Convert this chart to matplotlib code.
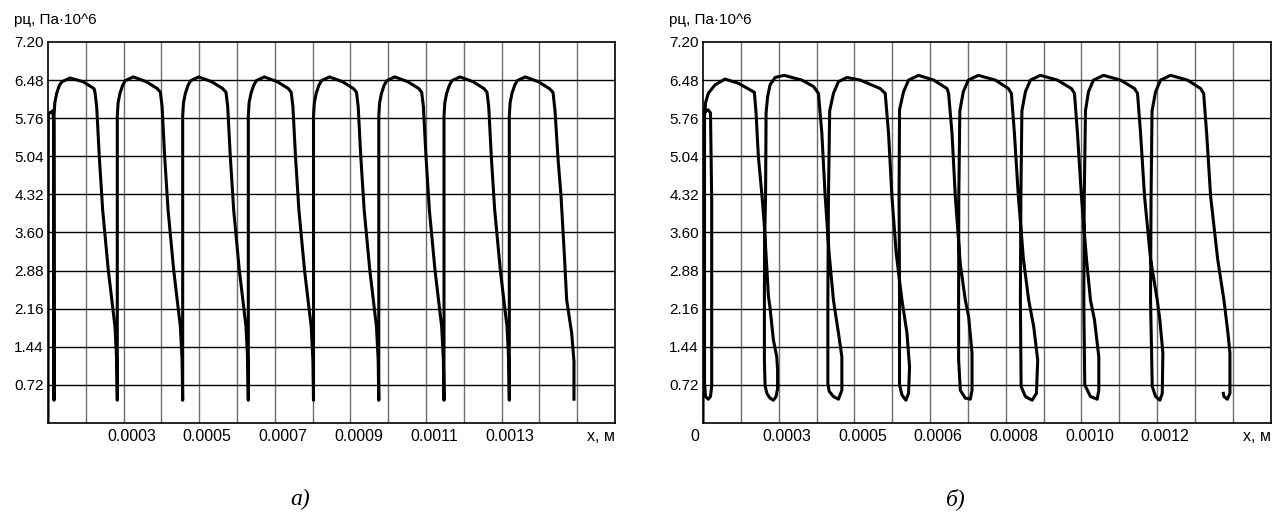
import numpy as np
import matplotlib.pyplot as plt
from matplotlib import transforms

plt.rcParams['font.family'] = ['Liberation Sans', 'DejaVu Sans']

# x in units of 1e-4 m, y in Pa*10^6
y_ticks = [0.72, 1.44, 2.16, 2.88, 3.60, 4.32, 5.04, 5.76, 6.48, 7.20]
y_ticklabels = ['0.72', '1.44', '2.16', '2.88', '3.60', '4.32', '5.04', '5.76', '6.48', '7.20']

# panel a)
xa = [1.000, 1.008, 1.124, 1.150, 1.159,
      1.159, 1.180, 1.230, 1.300, 1.371, 1.582, 1.926, 2.217, 2.243, 2.288, 2.357, 2.447, 2.595, 2.772, 2.817, 2.833,
      2.833, 2.854, 2.904, 2.974, 3.045, 3.256, 3.600, 3.891, 3.973, 4.018, 4.087, 4.177, 4.325, 4.502, 4.547, 4.563,
      4.563, 4.584, 4.634, 4.704, 4.775, 4.986, 5.330, 5.621, 5.709, 5.754, 5.823, 5.913, 6.061, 6.238, 6.283, 6.299,
      6.299, 6.320, 6.370, 6.440, 6.511, 6.722, 7.066, 7.357, 7.434, 7.479, 7.548, 7.638, 7.786, 7.963, 8.008, 8.024,
      8.024, 8.045, 8.095, 8.165, 8.236, 8.447, 8.791, 9.082, 9.161, 9.206, 9.275, 9.365, 9.513, 9.690, 9.735, 9.751,
      9.751, 9.772, 9.822, 9.892, 9.963, 10.174, 10.518, 10.809, 10.886, 10.931, 11.000, 11.090, 11.238, 11.415, 11.460, 11.476,
      11.476, 11.497, 11.547, 11.617, 11.688, 11.899, 12.243, 12.534, 12.614, 12.659, 12.728, 12.818, 12.966, 13.143, 13.188, 13.204,
      13.204, 13.225, 13.275, 13.345, 13.416, 13.627, 13.971, 14.262, 14.360, 14.413, 14.492, 14.571, 14.651, 14.722, 14.854, 14.915, 14.915]
pa = [0.00, 5.84, 5.90, 5.70, 0.43,
      5.80, 6.05, 6.23, 6.38, 6.45, 6.52, 6.45, 6.32, 6.25, 5.98, 5.03, 4.02, 2.89, 1.82, 1.19, 0.43,
      5.80, 6.05, 6.23, 6.38, 6.47, 6.54, 6.45, 6.32, 6.25, 5.98, 5.03, 4.02, 2.89, 1.82, 1.19, 0.43,
      5.80, 6.05, 6.23, 6.38, 6.47, 6.54, 6.45, 6.32, 6.25, 5.98, 5.03, 4.02, 2.89, 1.82, 1.19, 0.43,
      5.80, 6.05, 6.23, 6.38, 6.47, 6.54, 6.45, 6.32, 6.25, 5.98, 5.03, 4.02, 2.89, 1.82, 1.19, 0.43,
      5.80, 6.05, 6.23, 6.38, 6.47, 6.54, 6.45, 6.32, 6.25, 5.98, 5.03, 4.02, 2.89, 1.82, 1.19, 0.43,
      5.80, 6.05, 6.23, 6.38, 6.47, 6.54, 6.45, 6.32, 6.25, 5.98, 5.03, 4.02, 2.89, 1.82, 1.19, 0.43,
      5.80, 6.05, 6.23, 6.38, 6.47, 6.54, 6.45, 6.32, 6.25, 5.98, 5.03, 4.02, 2.89, 1.82, 1.19, 0.43,
      5.80, 6.05, 6.23, 6.38, 6.47, 6.54, 6.45, 6.32, 6.25, 5.90, 5.00, 4.30, 3.30, 2.32, 1.70, 1.16, 0.45]
xa_ticklabels = ['0.0003', '0.0005', '0.0007', '0.0009', '0.0011', '0.0013']
xa_ticklabel_pos = [3, 5, 7, 9, 11, 13]

# panel б)
xb = [0.000, 0.008, 0.132, 0.198, 0.230, 0.230, 0.198, 0.140, 0.066, 0.040, 0.040, 0.066, 0.140, 0.317, 0.582, 0.934,
      1.357, 1.402, 1.463, 1.553, 1.614, 1.685, 1.728, 1.772, 1.860, 1.950, 1.971, 1.971, 1.931, 1.860, 1.772, 1.693, 1.640,
      1.622, 1.622, 1.627, 1.653, 1.667, 1.706, 1.772, 1.905, 2.143, 2.611, 2.918,
      3.050, 3.140, 3.228, 3.333, 3.447, 3.579, 3.669, 3.669, 3.579, 3.447, 3.333, 3.299,
      3.299, 3.315, 3.347, 3.447, 3.579, 3.802, 4.153, 4.683,
      4.815, 4.902, 4.992, 5.106, 5.257, 5.389, 5.458, 5.431, 5.362, 5.257, 5.193,
      5.193, 5.180, 5.193, 5.299, 5.431, 5.696, 6.093, 6.447,
      6.489, 6.579, 6.667, 6.799, 6.931, 7.019, 7.108, 7.108, 7.063, 6.931, 6.799, 6.754,
      6.754, 6.759, 6.786, 6.878, 7.011, 7.275, 7.725, 8.069,
      8.148, 8.228, 8.333, 8.466, 8.606, 8.738, 8.844, 8.810, 8.696, 8.519, 8.405,
      8.386, 8.399, 8.426, 8.519, 8.651, 8.915, 9.365, 9.735,
      9.815, 9.894, 10.000, 10.132, 10.238, 10.344, 10.458, 10.458, 10.415, 10.238, 10.087,
      10.061, 10.074, 10.106, 10.185, 10.317, 10.582, 11.032, 11.402,
      11.481, 11.561, 11.667, 11.825, 12.003, 12.071, 12.151, 12.135, 12.071, 11.958, 11.870,
      11.825, 11.839, 11.865, 11.958, 12.090, 12.354, 12.804, 13.148,
      13.228, 13.307, 13.413, 13.598, 13.765, 13.870, 13.923, 13.923, 13.854, 13.765, 13.749]
pb = [0.00, 5.86, 5.92, 5.86, 4.20, 0.70, 0.50, 0.45, 0.50, 0.75, 5.80, 6.05, 6.23, 6.39, 6.50, 6.42,
      6.25, 5.86, 5.03, 4.34, 3.80, 2.95, 2.40, 2.17, 1.57, 1.25, 1.00, 0.65, 0.50, 0.43, 0.47, 0.55, 0.70,
      1.20, 2.32, 3.40, 4.28, 5.86, 6.16, 6.39, 6.53, 6.57, 6.48, 6.36,
      6.23, 5.48, 4.28, 3.20, 2.32, 1.70, 1.25, 0.62, 0.45, 0.50, 0.60, 0.75,
      2.32, 4.28, 5.90, 6.23, 6.45, 6.53, 6.48, 6.32,
      6.23, 5.48, 4.28, 3.20, 2.32, 1.70, 1.06, 0.56, 0.43, 0.53, 0.72,
      2.32, 4.28, 5.92, 6.26, 6.48, 6.57, 6.48, 6.32,
      6.23, 5.48, 4.28, 3.00, 2.32, 2.01, 1.32, 0.62, 0.45, 0.47, 0.62, 1.20,
      2.32, 4.28, 5.90, 6.26, 6.48, 6.57, 6.48, 6.32,
      6.23, 5.48, 4.28, 3.10, 2.32, 1.82, 1.19, 0.56, 0.43, 0.50, 0.69,
      2.32, 4.28, 5.90, 6.26, 6.48, 6.57, 6.48, 6.32,
      6.23, 5.48, 4.28, 3.10, 2.32, 1.95, 1.25, 0.62, 0.45, 0.50, 0.72,
      2.32, 4.28, 5.90, 6.26, 6.48, 6.57, 6.48, 6.32,
      6.23, 5.48, 4.28, 3.10, 2.32, 1.95, 1.32, 0.56, 0.43, 0.50, 0.69,
      2.32, 4.28, 5.90, 6.26, 6.48, 6.57, 6.48, 6.32,
      6.23, 5.48, 4.28, 3.10, 2.32, 1.70, 1.32, 0.56, 0.45, 0.50, 0.56]
xb_ticklabels = ['0', '0.0003', '0.0005', '0.0006', '0.0008', '0.0010', '0.0012']
xb_ticklabel_pos = [0, 2, 4, 6, 8, 10, 12]

fig = plt.figure(figsize=(12.78, 5.13), dpi=100)
ax_a = fig.add_axes([48 / 1278, 90 / 513, 567 / 1278, 381 / 513])
ax_b = fig.add_axes([703 / 1278, 90 / 513, 567.7 / 1278, 381 / 513])

panels = [(ax_a, xa, pa, 1, xa_ticklabels, xa_ticklabel_pos, 'а)'),
          (ax_b, xb, pb, 0, xb_ticklabels, xb_ticklabel_pos, 'б)')]

for ax, x, p, x0, labels, lpos, cap in panels:
    ax.set_xlim(x0, x0 + 15)
    ax.set_ylim(0, 7.2)
    # grid: one vertical line per 1e-4 m division, horizontal at the y ticks
    for g in range(1, 15):
        ax.axvline(x0 + g, color='#6e6e6e', lw=1.0, zorder=1)
    for yv in y_ticks[:-1]:
        ax.axhline(yv, color='black', lw=1.0, zorder=1)
    ax.plot(x, p, color='black', lw=2.2, solid_joinstyle='round', zorder=3)
    ax.set_xticks([])
    ax.set_yticks(y_ticks)
    ax.set_yticklabels(y_ticklabels, fontsize=11)
    ax.tick_params(axis='y', length=0, pad=3)
    for s in ax.spines.values():
        s.set_linewidth(1.2)

    # x labels sit a little right of their grid line (the "0" a little left)
    for lab, pos in zip(labels, lpos):
        dx = 8 if lab != '0' else -8
        tr = transforms.offset_copy(ax.get_xaxis_transform(), fig=fig, x=dx * 0.72, y=0, units='points')
        ax.text(pos, -0.036, lab, transform=tr, ha='center', va='center', fontsize=11.5)
    ax.text(1.0, -0.036, 'х, м', transform=ax.transAxes, ha='right', va='center', fontsize=11.5)
    ax.text(-0.06, 1.057, 'рц, Па·10^6', transform=ax.transAxes, ha='left', va='center', fontsize=11)
    ax.text(0.445, -0.2, cap, transform=ax.transAxes, ha='center', va='center', fontsize=17,
            family='Liberation Serif', style='italic')

fig.savefig('out.png', dpi=100)
